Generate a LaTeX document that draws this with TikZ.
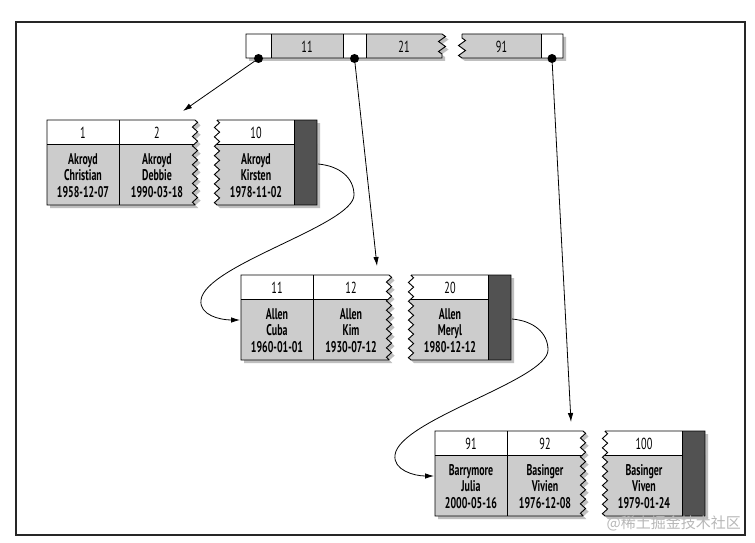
\documentclass[tikz,border=0pt]{standalone}
\usepackage{fontspec}
\setmainfont{PT Sans}[FakeStretch=0.64]
\newfontfamily\cjkfont{Noto Sans CJK SC}
\usetikzlibrary{decorations.pathmorphing,arrows.meta}
\tikzset{
  zz/.style={decoration={zigzag, segment length=9.4pt, amplitude=2.6pt}},
  zzs/.style={decoration={zigzag, segment length=10pt, amplitude=3.5pt}},
  bodyfill/.style={fill=black!20},
  darkfill/.style={fill=black!68},
  shadowfill/.style={fill=black!25},
  edge/.style={draw=black, line width=0.9pt},
  keytxt/.style={font=\fontsize{16}{16}\selectfont, inner sep=0pt},
  bodytxt/.style={font=\fontsize{15.5}{16}\selectfont\bfseries, inner sep=0pt},
  dot/.style={circle, fill=black, inner sep=0pt, minimum size=9pt},
  ptr/.style={-{Latex[length=9pt,width=5.5pt]}, line width=0.8pt},
}
\newcommand\bodycol[5]{%
  \node[bodytxt, anchor=base] (#1a) at (#2,44.5) {#3};
  \node[bodytxt, anchor=base] (#1b) at (#2,60) {#4};
  \node[bodytxt, anchor=base] (#1c) at (#2,77.5) {#5};}
\newcommand\leafpage[8]{%
\begin{scope}[shift={#2}]
  \def\gA{(0,0) -- (148,0) decorate[zz]{-- (148,85)} -- (0,85) -- cycle}
  \def\gB{(170,0) -- (270,0) -- (270,85) -- (170,85) decorate[zz]{-- (170,0)} -- cycle}
  \fill[shadowfill, shift={(3,3)}] \gA;
  \fill[shadowfill, shift={(3,3)}] \gB;
  \begin{scope}
    \clip \gA;
    \fill[bodyfill] (-5,-5) rectangle (160,90);
    \fill[white] (-5,-5) rectangle (160,24);
    \draw[edge] (-5,24) -- (160,24);
  \end{scope}
  \draw[edge] \gA;
  \draw[edge] (72,0) -- (72,85);
  \begin{scope}
    \clip \gB;
    \fill[bodyfill] (160,-5) rectangle (280,90);
    \fill[white] (160,-5) rectangle (280,24);
    \draw[edge] (160,24) -- (247,24);
    \fill[darkfill] (247,0) rectangle (270,85);
  \end{scope}
  \draw[edge] \gB;
  \draw[edge] (247,0) -- (247,85);
  \node[keytxt] (#1k1) at (36,12.5) {#3};
  \node[keytxt] (#1k2) at (110,12.5) {#4};
  \node[keytxt] (#1k3) at (209,12.5) {#5};
  \bodycol{#1x}{36}#6
  \bodycol{#1y}{110}#7
  \bodycol{#1z}{209}#8
  \coordinate (#1in) at (-1,45);
  \coordinate (#1top) at (136,-9);
  \coordinate (#1out) at (271,44);
\end{scope}}
\newcommand\curvelink[2]{%
  \draw[ptr] (#1) .. controls +(22,2) and +(0,-17) .. ++(36,31)
    .. controls +(0,30) and +(4,-35) .. ++(-153,105)
    .. controls +(-2,15) and +(-20,0) .. (#2);}
\begin{document}
\begin{tikzpicture}[x=1pt,y=-1pt]
  \useasboundingbox (0,0) rectangle (755,543);
  \fill[white] (0,0) rectangle (755,543);
  \draw[line width=1.2pt, black!85] (16,22) rectangle (745,535);

  % root page
  \begin{scope}[shift={(246,34)}]
    \def\rA{(0,0) -- (196,0) decorate[zzs]{-- (196,24)} -- (0,24) -- cycle}
    \def\rB{(216,0) -- (317,0) -- (317,24) -- (216,24) decorate[zzs]{-- (216,0)} -- cycle}
    \fill[shadowfill, shift={(3,3)}] \rA;
    \fill[shadowfill, shift={(3,3)}] \rB;
    \begin{scope}
      \clip \rA;
      \fill[white] (-5,-5) rectangle (210,30);
      \fill[bodyfill] (25,-5) rectangle (97,30);
      \fill[bodyfill] (120,-5) rectangle (210,30);
    \end{scope}
    \begin{scope}
      \clip \rB;
      \fill[bodyfill] (205,-5) rectangle (295,30);
      \fill[white] (295,-5) rectangle (320,30);
    \end{scope}
    \draw[edge] \rA;
    \draw[edge] \rB;
    \draw[edge] (25,0) -- (25,24);
    \draw[edge] (97,0) -- (97,24);
    \draw[edge] (120,0) -- (120,24);
    \draw[edge] (295,0) -- (295,24);
    \node[keytxt] (r11) at (61,12.5) {11};
    \node[keytxt] (r21) at (158,12.5) {21};
    \node[keytxt] (r91) at (255.5,12.5) {91};
    \node[dot] (d1) at (12.5,24.5) {};
    \node[dot] (d2) at (108.5,24.5) {};
    \node[dot] (d3) at (306,24.5) {};
  \end{scope}

  \leafpage{A}{(47,120)}{1}{2}{10}{{Akroyd}{Christian}{1958-12-07}}{{Akroyd}{Debbie}{1990-03-18}}{{Akroyd}{Kirsten}{1978-11-02}}
  \leafpage{B}{(241,275)}{11}{12}{20}{{Allen}{Cuba}{1960-01-01}}{{Allen}{Kim}{1930-07-12}}{{Allen}{Meryl}{1980-12-12}}
  \leafpage{C}{(435,431)}{91}{92}{100}{{Barrymore}{Julia}{2000-05-16}}{{Basinger}{Vivien}{1976-12-08}}{{Basinger}{Viven}{1979-01-24}}

  \draw[ptr] (d1) -- (Atop);
  \draw[ptr] (d2) -- (Btop);
  \draw[ptr] (d3) -- (Ctop);
  \curvelink{Aout}{Bin}
  \curvelink{Bout}{Cin}

  \node[anchor=east, text=black!28, font=\cjkfont\fontsize{15}{15}\selectfont, inner sep=0pt] (wm) at (741,523) {@稀土掘金技术社区};
\end{tikzpicture}
\end{document}
